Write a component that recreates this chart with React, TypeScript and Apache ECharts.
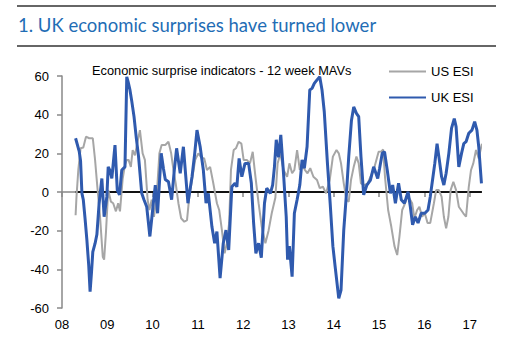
import React, { useEffect, useRef } from "react";
import * as echarts from "echarts";

const titleText = "1. UK economic surprises have turned lower";
const subtitleText = "Economic surprise indicators - 12 week MAVs";
const yearTicks = [2008, 2009, 2010, 2011, 2012, 2013, 2014, 2015, 2016, 2017];

const ukDates = [
  2008.30, 2008.38, 2008.41, 2008.44, 2008.47, 2008.51, 2008.55, 2008.59, 2008.62, 2008.65,
  2008.68, 2008.73, 2008.77, 2008.82, 2008.88, 2008.93, 2008.99, 2009.02, 2009.06, 2009.10,
  2009.17, 2009.22, 2009.27, 2009.32, 2009.39, 2009.43, 2009.46, 2009.50, 2009.54, 2009.59,
  2009.64, 2009.69, 2009.76, 2009.81, 2009.87, 2009.94, 2009.98, 2010.02, 2010.06, 2010.11,
  2010.19, 2010.24, 2010.28, 2010.35, 2010.42, 2010.48, 2010.53, 2010.61, 2010.68, 2010.78,
  2010.87, 2010.93, 2010.98, 2011.05, 2011.12, 2011.18, 2011.23, 2011.31, 2011.37, 2011.42,
  2011.49, 2011.56, 2011.62, 2011.68, 2011.75, 2011.82, 2011.86, 2011.91, 2011.97, 2012.04,
  2012.12, 2012.18, 2012.23, 2012.28, 2012.34, 2012.40, 2012.47, 2012.52, 2012.60, 2012.65,
  2012.69, 2012.73, 2012.78, 2012.83, 2012.89, 2012.95, 2012.98, 2013.02, 2013.08, 2013.13,
  2013.19, 2013.25, 2013.30, 2013.35, 2013.41, 2013.47, 2013.52, 2013.57, 2013.63, 2013.69,
  2013.74, 2013.79, 2013.86, 2013.92, 2013.98, 2014.03, 2014.11, 2014.16, 2014.22, 2014.28,
  2014.33, 2014.39, 2014.44, 2014.50, 2014.55, 2014.60, 2014.66, 2014.73, 2014.81, 2014.88,
  2014.93, 2014.97, 2015.01, 2015.07, 2015.12, 2015.18, 2015.25, 2015.30, 2015.36, 2015.43,
  2015.49, 2015.56, 2015.64, 2015.69, 2015.74, 2015.80, 2015.86, 2015.93, 2016.01, 2016.08,
  2016.13, 2016.18, 2016.23, 2016.28, 2016.33, 2016.38, 2016.43, 2016.48, 2016.54, 2016.60,
  2016.66, 2016.70, 2016.76, 2016.82, 2016.87, 2016.92, 2016.98, 2017.05, 2017.11, 2017.16,
  2017.20, 2017.26,
];
const ukValues = [
  27.8, 21, 16, -0.7, -4, -14, -25, -38, -51.6, -42,
  -31, -26.6, -22, -5.8, 7, -12.8, -2.4, 13, 11, 7,
  24.3, 1, -1.5, 11.4, 13, 59.6, 57, 52.8, 47, 39,
  28, 18.3, -0.7, -4, -7.6, -23, -14, -5, 3.6, -11,
  20, 12, 6.5, 5.3, -4, 11.4, 22.6, 9.7, 23.4, -5.8,
  7.9, 20, 32, 23.4, 11.4, -5.8, -0.7, -18, -26.5, -20.5,
  -44.6, -26.5, -19.7, -30, 2.7, 4.5, 2.7, 17.4, 7.9, 14.8,
  14.8, 4.5, -16, -31.7, -26.5, -34, -5.8, 2, -0.7, 3.6,
  13, 27, 18, 29.5, 9.7, -12.8, -35, -28, -43.8, -11,
  -4, 3.6, 16.6, 12.3, 23.4, 52.8, 53.6, 56.2, 58, 59.6,
  52.8, 41.5, 14.8, -5.8, -28, -38.6, -55, -50.7, -19.7, -0.7,
  18.3, 37, 44, 40.7, 39, 18.3, -1.5, 3.6, 6.2, 13,
  9.7, 7, 12, 20, 20.8, 11.4, -0.7, 3.6, -5.8, 4.5,
  -4, -5.8, 0.2, -7.6, -17, -12.8, -16, -11, -11, -9.3,
  -2.4, 6.2, 14.8, 25, 16.6, 7.9, 3.6, 9.7, 20, 33,
  38, 33.8, 13, 20, 25, 26, 30.4, 32, 36.4, 32,
  23.4, 4.5,
];

const usDates = [
  2008.30, 2008.32, 2008.36, 2008.41, 2008.47, 2008.53, 2008.60, 2008.68, 2008.73, 2008.78,
  2008.84, 2008.90, 2008.93, 2008.97, 2009.02, 2009.08, 2009.13, 2009.19, 2009.24, 2009.28,
  2009.34, 2009.39, 2009.43, 2009.47, 2009.52, 2009.56, 2009.61, 2009.66, 2009.72, 2009.78,
  2009.83, 2009.89, 2009.93, 2009.98, 2010.03, 2010.09, 2010.15, 2010.20, 2010.28, 2010.35,
  2010.41, 2010.46, 2010.51, 2010.57, 2010.63, 2010.70, 2010.76, 2010.81, 2010.87, 2010.94,
  2011.01, 2011.09, 2011.14, 2011.20, 2011.27, 2011.34, 2011.42, 2011.47, 2011.53, 2011.59,
  2011.64, 2011.69, 2011.73, 2011.79, 2011.84, 2011.90, 2011.96, 2012.01, 2012.08, 2012.15,
  2012.21, 2012.27, 2012.34, 2012.41, 2012.49, 2012.56, 2012.63, 2012.71, 2012.76, 2012.82,
  2012.89, 2012.97, 2013.02, 2013.08, 2013.13, 2013.19, 2013.25, 2013.30, 2013.36, 2013.42,
  2013.48, 2013.55, 2013.63, 2013.69, 2013.76, 2013.83, 2013.91, 2013.98, 2014.06, 2014.11,
  2014.16, 2014.22, 2014.28, 2014.33, 2014.38, 2014.44, 2014.50, 2014.55, 2014.60, 2014.67,
  2014.75, 2014.81, 2014.88, 2014.94, 2014.99, 2015.05, 2015.09, 2015.13, 2015.20, 2015.27,
  2015.34, 2015.40, 2015.45, 2015.51, 2015.56, 2015.62, 2015.67, 2015.73, 2015.78, 2015.84,
  2015.89, 2015.95, 2016.01, 2016.07, 2016.13, 2016.21, 2016.26, 2016.32, 2016.38, 2016.43,
  2016.48, 2016.53, 2016.58, 2016.64, 2016.70, 2016.76, 2016.81, 2016.86, 2016.92, 2016.98,
  2017.03, 2017.08, 2017.14, 2017.20, 2017.27,
];
const usValues = [
  -12, -2.4, 11.4, 22.6, 23, 28.6, 27.8, 27.8, 16.6, 2.7,
  -12.8, -33.5, -35, -21, 1, -5, -5.8, -10, -5.8, -10,
  7, 14, 16.6, 16.6, 13, 21.7, 19, 25, 32, 20,
  16.6, -4, -9.3, -4, -12.8, -2.4, 20, 24.3, 24.3, 26,
  20, 11.4, 4.5, -5.8, -13.6, -15.4, -14.5, -2.4, 6.2, 16.6,
  20, 17.4, 17.4, 11.4, 13, 4.5, -5.8, -9.3, -19.7, -31.7,
  -26.5, -16, 11.4, 21.7, 22.6, 26, 25, 16.6, 16.6, 14.8,
  20.8, 7.9, -5.8, -18, -26.5, -20, -11, -3, 14.8, 20,
  11.4, 7.9, 14.8, 9.7, 11.4, 21.7, 11.4, 14.8, 11.4, 9.7,
  12.3, 7.9, 6.2, 2, 2.7, -0.7, 6.2, 18.3, 21.7, 20,
  14.8, 4.5, -4, -5, 6.2, 13, 18.3, 14.8, 4.5, 3.6,
  4.5, 7.9, 11.4, 16.6, 20.8, 21, 22, 8, -9.3, -18,
  -28, -32.6, -23, -9.3, -6.7, -2.4, -3.3, -5.8, -13.6, -9.3,
  -7.6, -12.8, -11, -16, -16, -5.8, 1, 1, -2.4, -12.8,
  -18.8, -12.8, 1, 5.3, 1, -7.6, -9.3, -11, -12.8, 2.7,
  11.4, 14.8, 21.7, 17.4, 25,
];

const zeroLineRange = [2008.3, 2017.27];

const pairs = (xs: number[], ys: number[]) => xs.map((x, i) => [x, ys[i]]);

export default function App() {
  const ref = useRef<HTMLDivElement>(null);
  useEffect(() => {
    if (!ref.current) return;
    const chart = echarts.init(ref.current, undefined, { renderer: "svg" });
    const font = "'Liberation Sans', Arial, sans-serif";
    chart.setOption({
      animation: false,
      backgroundColor: "#ffffff",
      textStyle: { fontFamily: font },
      grid: { left: 62, right: 36, top: 76, bottom: 40, containLabel: false },
      graphic: [
        { type: "line", shape: { x1: 17, y1: 6, x2: 496, y2: 6 }, style: { stroke: "#333", lineWidth: 1.5 } },
        { type: "line", shape: { x1: 17, y1: 46, x2: 496, y2: 46 }, style: { stroke: "#333", lineWidth: 1.5 } },
        {
          type: "text",
          left: 18,
          top: 15,
          style: { text: titleText, fill: "#1f6db5", font: "18.5px Lato, 'Open Sans', sans-serif" },
        },
        {
          type: "text",
          left: 92,
          top: 64,
          style: { text: subtitleText, fill: "#000", font: "12.8px " + font },
        },
      ],
      legend: {
        data: ["US ESI", "UK ESI"],
        orient: "vertical",
        left: 383,
        top: 60,
        itemWidth: 37,
        itemHeight: 14,
        itemGap: 13,
        itemStyle: { color: "transparent", opacity: 0, borderWidth: 0 },
        textStyle: { fontSize: 13, color: "#000", fontFamily: font },
      },
      xAxis: {
        type: "value",
        min: 2008,
        max: 2017.25,
        interval: 1,
        axisLine: { lineStyle: { color: "#888", width: 1.5 } },
        axisTick: { show: true, length: 5, lineStyle: { color: "#888", width: 1.5 }, customValues: yearTicks },
        axisLabel: {
          customValues: yearTicks,
          margin: 10,
          fontSize: 13,
          color: "#000",
          fontFamily: font,
          formatter: (v: number) => String(Math.round(v) - 2000).padStart(2, "0"),
        },
        splitLine: { show: false },
      },
      yAxis: {
        type: "value",
        min: -60,
        max: 60,
        interval: 20,
        axisLine: { show: true, lineStyle: { color: "#888", width: 1.5 } },
        axisTick: { show: true, length: 5, lineStyle: { color: "#888", width: 1.5 } },
        axisLabel: { margin: 13, fontSize: 13, color: "#000", fontFamily: font },
        splitLine: { show: false },
      },
      series: [
        {
          name: "zero",
          type: "line",
          data: zeroLineRange.map((x) => [x, 0]),
          symbol: "none",
          silent: true,
          lineStyle: { color: "#111", width: 2 },
          z: 1,
        },
        {
          name: "US ESI",
          type: "line",
          data: pairs(usDates, usValues),
          symbol: "none",
          color: "#a6a6a6",
          lineStyle: { color: "#a6a6a6", width: 2 },
          z: 2,
        },
        {
          name: "UK ESI",
          type: "line",
          data: pairs(ukDates, ukValues),
          symbol: "none",
          color: "#2f5aae",
          lineStyle: { color: "#2f5aae", width: 3 },
          z: 3,
        },
      ],
    });
    return () => chart.dispose();
  }, []);
  return <div ref={ref} style={{ position: "fixed", left: 0, top: 0, width: 517, height: 348 }} />;
}
